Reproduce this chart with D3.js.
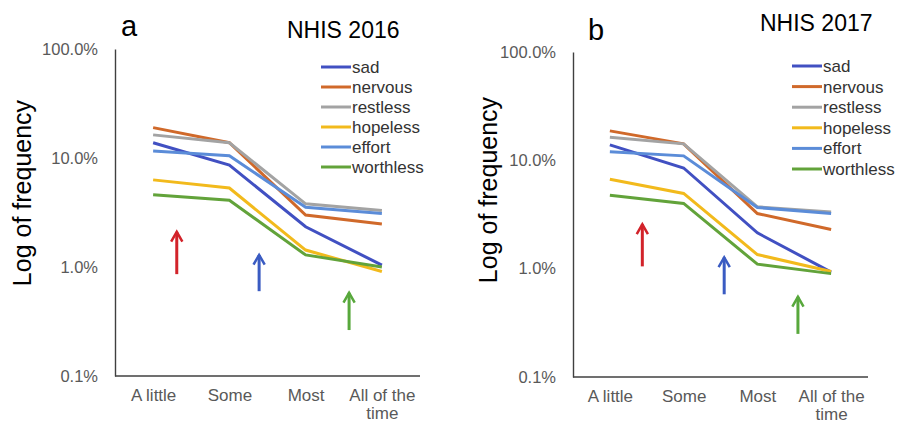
<!DOCTYPE html>
<html>
<head>
<meta charset="utf-8">
<script src="https://cdn.jsdelivr.net/npm/d3@7"></script>
<style>
  body { margin: 0; background: #fff; }
  svg { display: block; font-family: "Liberation Sans", Arial, sans-serif; }
</style>
</head>
<body>
<div id="container"></div>
<script>

var categories = ["A little", "Some", "Most", "All of the time"];

var symptoms = ["sad", "nervous", "restless", "hopeless", "effort", "worthless"];

var colors = ["#4150C2", "#D0692A", "#A3A3A3", "#F2BA1C", "#5B8CD8", "#62A33A"];

//  percent of respondents, one row per symptom (same order as symptoms)
var values2016 = [
    [13.8, 8.6, 2.34, 1.04],
    [19.0, 13.8, 3.0, 2.48],
    [16.3, 13.8, 3.8, 3.3],
    [6.3, 5.3, 1.43, 0.91],
    [11.6, 10.5, 3.53, 3.1],
    [4.6, 4.1, 1.29, 1.0]
];

var values2017 = [
    [13.9, 8.5, 2.14, 0.93],
    [18.7, 14.2, 3.23, 2.3],
    [16.3, 14.2, 3.72, 3.34],
    [6.7, 4.95, 1.35, 0.94],
    [12.0, 11.0, 3.67, 3.23],
    [4.77, 4.0, 1.1, 0.9]
];

var yTicks = [0.1, 1, 10, 100];

//  arrows: position along the category axis (0 = A little), tail value, head value
var arrows2016 = [
    {pos: 0.31, from: 0.86, to: 2.1, color: "#D2232A"},
    {pos: 1.39, from: 0.60, to: 1.29, color: "#3A5BC2"},
    {pos: 2.57, from: 0.264, to: 0.58, color: "#58A83C"}
];

var arrows2017 = [
    {pos: 0.44, from: 1.05, to: 2.57, color: "#D2232A"},
    {pos: 1.55, from: 0.58, to: 1.27, color: "#3A5BC2"},
    {pos: 2.55, from: 0.25, to: 0.55, color: "#58A83C"}
];

var panels = [
    {letter: "a", title: "NHIS 2016", values: values2016, arrows: arrows2016,
     left: 115, right: 420, top: 49, bottom: 376,
     letterX: 121, letterY: 36, titleX: 287, titleY: 38,
     yTitleX: 31, yTitleY: 193, legendX: 321, legendY: 67, legendStep: 20},
    {letter: "b", title: "NHIS 2017", values: values2017, arrows: arrows2017,
     left: 573, right: 868, top: 52, bottom: 377,
     letterX: 588, letterY: 40, titleX: 760, titleY: 31,
     yTitleX: 497, yTitleY: 190, legendX: 792, legendY: 66, legendStep: 20.6}
];

var svg = d3.select("#container")
    .append("svg")
    .attr("width", 902)
    .attr("height", 423);

var defs = svg.append("defs");

panels.forEach(function(p, pi) {

    var g = svg.append("g");

    var x = d3.scalePoint()
        .domain(categories)
        .range([p.left, p.right])
        .padding(0.5);

    var step = x.step();

    var y = d3.scaleLog()
        .domain([0.1, 100])
        .range([p.bottom, p.top]);

    //  axes
    var yAxis = g.append("g")
        .attr("transform", "translate(" + p.left + ",0)")
        .call(d3.axisLeft(y).tickValues(yTicks).tickSize(0).tickPadding(17)
            .tickFormat(function(d) { return d3.format(".1f")(d) + "%"; }));

    yAxis.select(".domain").attr("stroke", "#404040").attr("stroke-width", 1.4);
    yAxis.selectAll("text")
        .attr("fill", "#595959")
        .style("font-size", "16.5px")
        .style("font-family", "'Liberation Sans', Arial, sans-serif");

    var xAxis = g.append("g")
        .attr("transform", "translate(0," + p.bottom + ")")
        .call(d3.axisBottom(x).tickSize(0).tickSizeOuter(0).tickFormat(""));

    xAxis.select(".domain")
        .attr("d", "M" + p.left + ",0H" + p.right)
        .attr("stroke", "#404040").attr("stroke-width", 1.4);

    xAxis.selectAll(".tick").each(function(d) {
        var t = d3.select(this).select("text")
            .attr("y", 0)
            .attr("dy", null)
            .attr("fill", "#595959")
            .style("font-size", "17px")
            .style("font-family", "'Liberation Sans', Arial, sans-serif");
        var lines = d == "All of the time" ? ["All of the", "time"] : [d];
        lines.forEach(function(l, li) {
            t.append("tspan").attr("x", 0).attr("y", 25 + li * 18).text(l);
        });
    });

    //  lines
    var line = d3.line()
        .x(function(d, i) { return x(categories[i]); })
        .y(function(d) { return y(d); });

    g.selectAll(".series")
        .data(p.values)
        .enter()
        .append("path")
        .attr("class", "series")
        .attr("d", line)
        .attr("fill", "none")
        .attr("stroke", function(d, i) { return colors[i]; })
        .attr("stroke-width", 3);

    //  arrows
    p.arrows.forEach(function(a, ai) {
        var id = "head" + pi + ai;
        defs.append("marker")
            .attr("id", id)
            .attr("viewBox", "0 0 10 10")
            .attr("refX", 8)
            .attr("refY", 5)
            .attr("markerUnits", "userSpaceOnUse")
            .attr("markerWidth", 14)
            .attr("markerHeight", 14)
            .attr("orient", "auto")
            .append("path")
            .attr("d", "M1,1L8,5L1,9")
            .attr("fill", "none")
            .attr("stroke", a.color)
            .attr("stroke-width", 1.8);

        var ax = x(categories[0]) + a.pos * step;
        g.append("line")
            .attr("x1", ax).attr("x2", ax)
            .attr("y1", y(a.from)).attr("y2", y(a.to))
            .attr("stroke", a.color)
            .attr("stroke-width", 3)
            .attr("marker-end", "url(#" + id + ")");
    });

    //  legend
    var legend = g.selectAll(".legend")
        .data(symptoms)
        .enter()
        .append("g")
        .attr("transform", function(d, i) {
            return "translate(" + p.legendX + "," + (p.legendY + i * p.legendStep) + ")";
        });

    legend.append("line")
        .attr("x1", 0).attr("x2", 30)
        .attr("stroke", function(d, i) { return colors[i]; })
        .attr("stroke-width", 3);

    legend.append("text")
        .attr("x", 31)
        .attr("dy", "0.35em")
        .attr("fill", "#333")
        .style("font-size", "17px")
        .text(function(d) { return d; });

    //  titles
    g.append("text")
        .attr("x", p.letterX).attr("y", p.letterY)
        .style("font-size", "29px")
        .text(p.letter);

    g.append("text")
        .attr("x", p.titleX).attr("y", p.titleY)
        .style("font-size", "23px")
        .text(p.title);

    g.append("text")
        .attr("transform", "translate(" + p.yTitleX + "," + p.yTitleY + ") rotate(-90)")
        .attr("text-anchor", "middle")
        .style("font-size", "25px")
        .text("Log of frequency");
});

</script>
</body>
</html>
